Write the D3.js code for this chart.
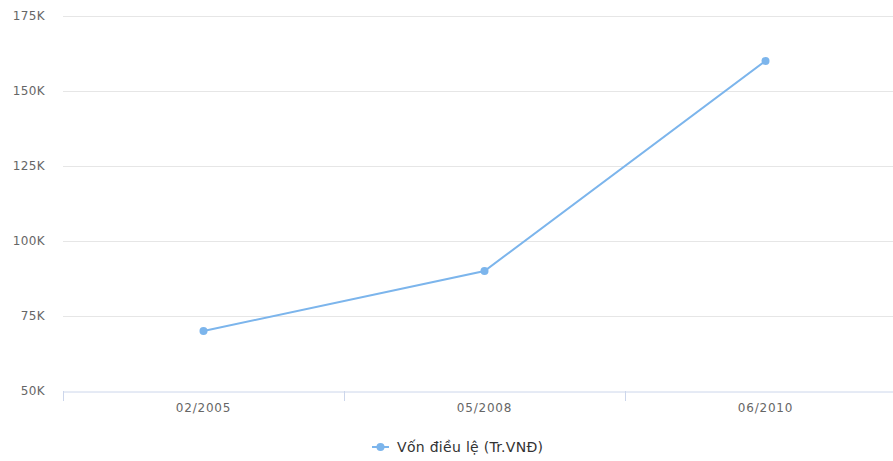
<!DOCTYPE html>
<html>
<head>
<meta charset="utf-8">
<script src="https://cdn.jsdelivr.net/npm/d3@7"></script>
<style>
  body { margin: 0; background: #fff; }
  text { font-family: "DejaVu Sans", sans-serif; }
</style>
</head>
<body>
<div id="chart"></div>
<script>
// data
const periods = ["02/2005", "05/2008", "06/2010"];
const capital = [70000, 90000, 160000];
const yTicks = [50000, 75000, 100000, 125000, 150000, 175000];
const seriesName = "Vốn điều lệ (Tr.VNĐ)";

const WIDTH = 893;
const HEIGHT = 461;
const LEFT = 63, TOP = 16, BOTTOM = 391;
const BAND = 281;

const svg = d3.select("#chart")
	.append("svg")
		.attr("width", WIDTH)
		.attr("height", HEIGHT);

const x = d3.scaleBand()
	.domain(periods)
	.range([LEFT, LEFT + BAND * periods.length]);

const y = d3.scaleLinear()
	.domain([50000, 175000])
	.range([BOTTOM, TOP]);

// horizontal grid
svg.append("g")
	.selectAll("line")
	.data(yTicks.slice(1))
	.join("line")
		.attr("x1", LEFT)
		.attr("x2", WIDTH)
		.attr("y1", d => y(d) + 0.5)
		.attr("y2", d => y(d) + 0.5)
		.attr("stroke", "#e6e6e6");

// y labels
svg.append("g")
	.selectAll("text")
	.data(yTicks)
	.join("text")
		.attr("x", 45)
		.attr("y", d => y(d) + 4)
		.attr("text-anchor", "end")
		.attr("font-size", 12)
		.attr("letter-spacing", 0.4)
		.attr("fill", "#666")
		.text(d => d / 1000 + "K");

// x axis
const xAxis = svg.append("g")
	.attr("transform", `translate(0,${BOTTOM + 0.5})`)
	.call(d3.axisBottom(x).tickSize(0).tickPadding(12));
xAxis.select(".domain").attr("stroke", "#ccd6eb");
xAxis.selectAll("text")
	.attr("font-family", "DejaVu Sans, sans-serif")
	.attr("font-size", 12)
	.attr("letter-spacing", 0.8)
	.attr("fill", "#666");

// tick marks between categories
svg.append("g")
	.selectAll("line")
	.data(periods)
	.join("line")
		.attr("x1", d => x(d) + 0.5)
		.attr("x2", d => x(d) + 0.5)
		.attr("y1", BOTTOM)
		.attr("y2", BOTTOM + 10)
		.attr("stroke", "#ccd6eb");

const pts = periods.map((p, i) => [x(p) + x.bandwidth() / 2, y(capital[i])]);

svg.append("path")
	.attr("d", d3.line()(pts))
	.attr("fill", "none")
	.attr("stroke", "#7cb5ec")
	.attr("stroke-width", 2);

svg.append("g")
	.selectAll("circle")
	.data(pts)
	.join("circle")
		.attr("cx", d => d[0])
		.attr("cy", d => d[1])
		.attr("r", 4)
		.attr("fill", "#7cb5ec");

// legend
const legend = svg.append("g").attr("transform", "translate(372,447)");
legend.append("line")
	.attr("x1", 0).attr("x2", 17)
	.attr("stroke", "#7cb5ec")
	.attr("stroke-width", 2);
legend.append("circle")
	.attr("cx", 8.5)
	.attr("r", 4)
	.attr("fill", "#7cb5ec");
legend.append("text")
	.attr("x", 25)
	.attr("y", 5)
	.attr("font-size", 14)
	.attr("letter-spacing", 0.3)
	.attr("fill", "#333")
	.text(seriesName);
</script>
</body>
</html>
